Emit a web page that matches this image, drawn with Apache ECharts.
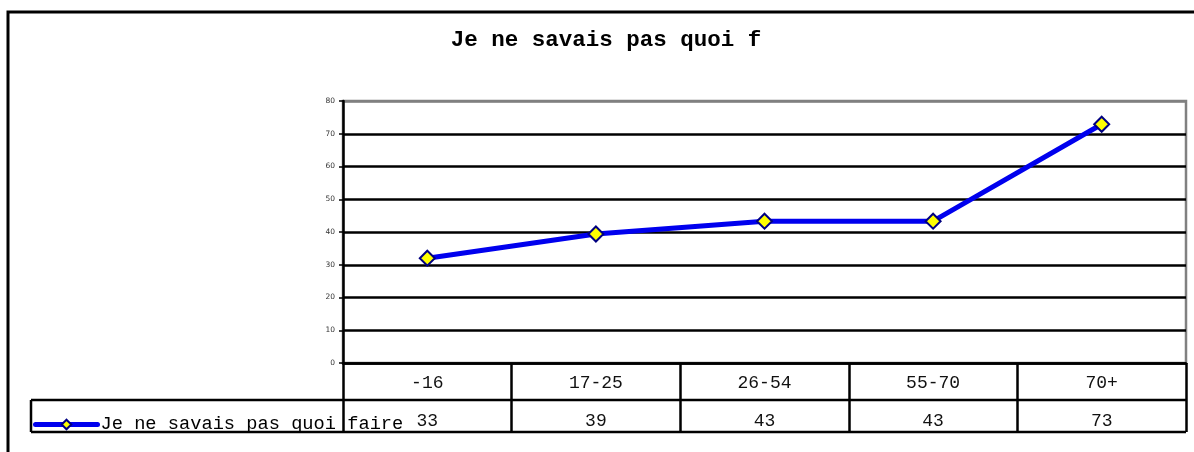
<!DOCTYPE html>
<html>
<head>
<meta charset="utf-8">
<script src="https://cdn.jsdelivr.net/npm/echarts@6/dist/echarts.min.js"></script>
<style>
  html, body { margin: 0; padding: 0; background: #fff; }
  #chart { width: 1194px; height: 452px; }
</style>
</head>
<body>
<div id="chart"></div>
<script>
// data
var categories = ['-16', '17-25', '26-54', '55-70', '70+'];
var values = [32, 39.4, 43.3, 43.3, 72.9];
var tableLabels = ['33', '39', '43', '43', '73'];
var seriesName = 'Je ne savais pas quoi faire';
var titleText = 'Je ne savais pas quoi f';
var yTicks = [0, 10, 20, 30, 40, 50, 60, 70, 80];

var mono = '"Liberation Mono", "Courier New", monospace';

var myChart = echarts.init(document.getElementById('chart'));

var option = {
  animation: false,
  graphic: [
    // outer frame
    { type: 'polyline', shape: { points: [[8, 452], [8, 12], [1194, 12]] }, style: { stroke: '#000', lineWidth: 3, fill: null } },
    { type: 'text', x: 606, y: 40, style: { text: titleText, font: 'bold 22.5px ' + mono, fill: '#000', align: 'center', verticalAlign: 'middle' } },
    // data table rows
    { type: 'line', shape: { x1: 31, y1: 400, x2: 1186, y2: 400 }, style: { stroke: '#000', lineWidth: 2.5 } },
    { type: 'line', shape: { x1: 31, y1: 432, x2: 1186, y2: 432 }, style: { stroke: '#000', lineWidth: 2.5 } },
    { type: 'line', shape: { x1: 31, y1: 400, x2: 31, y2: 432 }, style: { stroke: '#000', lineWidth: 2.5 } }
  ],
  legend: {
    left: 33,
    top: 415,
    itemWidth: 62,
    itemHeight: 12,
    itemGap: 4,
    padding: 0,
    lineStyle: { width: 5, cap: 'round' },
    textStyle: { fontFamily: mono, fontSize: 18.7, color: '#000', padding: [0, 0, 0, -2] },
    data: [seriesName]
  },
  grid: {
    left: 343, right: 8, top: 101, bottom: 89,
    show: true, borderColor: '#808080', borderWidth: 2.5, backgroundColor: '#fff'
  },
  xAxis: [{
    type: 'category',
    data: categories,
    boundaryGap: true,
    axisLine: { lineStyle: { color: '#000', width: 2.5 } },
    axisTick: { show: true, interval: 0, length: 69, lineStyle: { color: '#000', width: 2.5 } },
    axisLabel: { margin: 11, fontFamily: mono, fontSize: 18, color: '#111', interval: 0 }
  }, {
    type: 'category',
    position: 'bottom',
    offset: 40,
    data: tableLabels,
    axisLine: { show: false },
    axisTick: { show: false },
    axisLabel: { margin: 9, fontFamily: mono, fontSize: 18, color: '#111', interval: 0 }
  }],
  yAxis: {
    type: 'value',
    min: yTicks[0],
    max: yTicks[yTicks.length - 1],
    interval: 10,
    axisLine: { show: true, lineStyle: { color: '#000', width: 2.5 } },
    axisTick: { show: true, length: 4, lineStyle: { color: '#000', width: 1.5 } },
    axisLabel: { margin: 8, fontFamily: '"DejaVu Sans", sans-serif', fontSize: 7.5, color: '#333' },
    splitLine: {
      show: true,
      lineStyle: { color: ['#000', '#000', '#000', '#000', '#000', '#000', '#000', '#000', '#808080'], width: 2.5 }
    }
  },
  series: [{
    name: seriesName,
    type: 'line',
    xAxisIndex: 0,
    data: values,
    lineStyle: { color: '#0000ee', width: 5 },
    itemStyle: { color: '#ffff00', borderColor: '#000080', borderWidth: 2 },
    symbol: 'diamond',
    symbolSize: 15,
    z: 5
  }]
};

myChart.setOption(option);
window.addEventListener('resize', function () {
  myChart.resize();
});
</script>
</body>
</html>
